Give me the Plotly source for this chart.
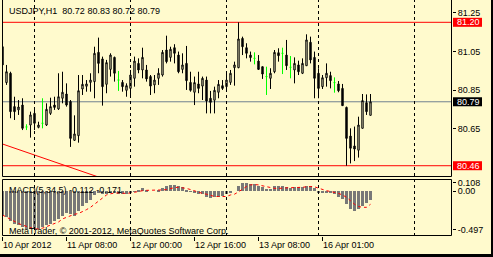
import plotly.graph_objects as go

# ---------------- data ----------------
symbol = "USDJPY,H1"
bars = list(range(93))
opens = [81.074, 80.889, 80.937, 80.765, 80.748, 80.773, 80.660, 80.670, 80.730, 80.658,
         80.679, 80.670, 80.730, 80.773, 80.753, 80.808, 80.830, 80.791, 80.591, 80.615,
         80.856, 80.870, 80.890, 80.894, 81.045, 81.011, 80.880, 80.957, 81.019, 80.902,
         80.890, 80.849, 80.859, 80.911, 80.988, 80.954, 80.954, 80.920, 80.877, 80.911,
         80.928, 81.057, 81.019, 81.069, 81.031, 80.957, 80.988, 80.890, 80.839, 80.882,
         80.871, 80.902, 80.808, 80.798, 80.839, 80.873, 80.868, 80.890, 80.966, 80.966,
         81.117, 81.069, 81.031, 81.014, 81.000, 80.971, 80.920, 80.911, 80.945, 81.043,
         81.040, 81.031, 80.968, 80.954, 80.980, 80.937, 80.976, 81.097, 81.019, 80.937,
         80.868, 80.914, 80.925, 80.889, 80.882, 80.859, 80.761, 80.613, 80.562, 80.540,
         80.653, 80.785, 80.72]
highs = [81.117, 80.980, 80.945, 80.816, 80.799, 80.808, 80.674, 80.739, 80.756, 80.687,
         80.808, 80.782, 80.811, 80.816, 80.937, 80.945, 80.885, 80.799, 80.720, 80.928,
         80.928, 80.902, 80.937, 81.074, 81.121, 81.023, 81.006, 81.040, 81.023, 80.949,
         80.902, 80.885, 80.954, 81.023, 81.014, 81.069, 80.980, 80.928, 80.928, 80.963,
         81.057, 81.131, 81.074, 81.087, 81.049, 81.040, 81.078, 80.945, 80.920, 80.945,
         80.920, 80.920, 80.846, 80.868, 80.902, 80.902, 80.937, 80.954, 80.997, 81.200,
         81.126, 81.092, 81.049, 81.045, 81.031, 80.971, 80.971, 80.963, 81.057, 81.066,
         81.069, 81.109, 81.026, 81.019, 81.002, 81.014, 81.138, 81.126, 81.049, 80.963,
         80.928, 80.988, 80.945, 80.916, 80.897, 80.882, 80.765, 80.653, 80.662, 80.713,
         80.830, 80.828, 80.83]
lows = [80.976, 80.877, 80.705, 80.696, 80.722, 80.644, 80.644, 80.605, 80.644, 80.653,
        80.653, 80.665, 80.722, 80.748, 80.748, 80.782, 80.765, 80.557, 80.588, 80.579,
        80.825, 80.842, 80.842, 80.808, 80.937, 80.770, 80.834, 80.920, 80.894, 80.846,
        80.842, 80.816, 80.816, 80.868, 80.937, 80.911, 80.894, 80.825, 80.834, 80.877,
        80.920, 80.988, 80.997, 80.988, 80.937, 80.937, 80.851, 80.842, 80.773, 80.834,
        80.799, 80.730, 80.730, 80.730, 80.808, 80.851, 80.846, 80.877, 80.873, 80.963,
        81.031, 81.014, 80.997, 80.983, 80.954, 80.908, 80.825, 80.856, 80.937, 80.997,
        80.933, 80.954, 80.911, 80.885, 80.928, 80.933, 80.976, 80.988, 80.808, 80.808,
        80.856, 80.868, 80.859, 80.837, 80.839, 80.770, 80.460, 80.472, 80.484, 80.502,
        80.653, 80.722, 80.72]
closes = [80.980, 80.945, 80.739, 80.739, 80.763, 80.653, 80.660, 80.722, 80.679, 80.670,
          80.679, 80.751, 80.765, 80.761, 80.816, 80.839, 80.773, 80.601, 80.624, 80.847,
          80.880, 80.882, 80.902, 81.040, 80.988, 80.868, 80.992, 81.031, 80.937, 80.902,
          80.868, 80.873, 80.928, 81.000, 80.954, 81.019, 80.908, 80.871, 80.902, 80.937,
          81.045, 80.997, 81.061, 81.040, 80.945, 80.980, 80.899, 80.849, 80.889, 80.859,
          80.911, 80.794, 80.787, 80.849, 80.880, 80.859, 80.902, 80.937, 80.980, 81.114,
          81.074, 81.040, 81.018, 81.014, 80.957, 80.933, 80.920, 80.937, 81.045, 81.028,
          81.040, 80.976, 80.968, 80.988, 80.945, 80.988, 81.109, 81.006, 80.911, 80.859,
          80.914, 80.937, 80.899, 80.889, 80.847, 80.770, 80.601, 80.550, 80.546, 80.670,
          80.796, 80.739, 80.79]

macd_hist = [-0.31, -0.33, -0.39, -0.43, -0.44, -0.46, -0.49, -0.497, -0.49, -0.49,
             -0.47, -0.44, -0.42, -0.39, -0.36, -0.32, -0.29, -0.30, -0.32, -0.26,
             -0.19, -0.15, -0.11, -0.05, -0.02, -0.04, -0.04, -0.025, -0.025, -0.04,
             -0.04, -0.04, -0.025, -0.01, 0.01, 0.04, 0.01, 0.0, 0.0, 0.01,
             0.04, 0.06, 0.08, 0.08, 0.06, 0.05, 0.01, -0.01, -0.02, -0.04,
             -0.04, -0.07, -0.09, -0.08, -0.07, -0.06, -0.04, -0.02, 0.0, 0.06,
             0.105, 0.108, 0.09, 0.09, 0.07, 0.055, 0.03, 0.03, 0.06, 0.06,
             0.06, 0.05, 0.045, 0.05, 0.055, 0.055, 0.07, 0.07, 0.045, -0.015,
             -0.025, -0.025, -0.025, -0.04, -0.07, -0.10, -0.17, -0.23, -0.26, -0.23,
             -0.19, -0.155, -0.112]
macd_signal = [-0.31, -0.34, -0.36, -0.39, -0.42, -0.44, -0.46, -0.48, -0.49, -0.49,
               -0.48, -0.46, -0.44, -0.42, -0.40, -0.36, -0.34, -0.31, -0.30, -0.29,
               -0.27, -0.24, -0.21, -0.17, -0.125, -0.085, -0.05, -0.035, -0.025, -0.025,
               -0.03, -0.03, -0.025, -0.015, 0.0, 0.005, 0.01, 0.01, 0.01, 0.01,
               0.015, 0.02, 0.035, 0.045, 0.05, 0.045, 0.035, 0.02, 0.0, -0.015,
               -0.03, -0.04, -0.06, -0.07, -0.07, -0.07, -0.07, -0.05, -0.04, -0.01,
               0.03, 0.06, 0.08, 0.085, 0.08, 0.07, 0.06, 0.045, 0.035, 0.035,
               0.04, 0.045, 0.045, 0.045, 0.045, 0.05, 0.055, 0.06, 0.055, 0.035,
               0.02, 0.005, -0.005, -0.015, -0.03, -0.05, -0.08, -0.125, -0.17, -0.2,
               -0.21, -0.21, -0.171]

level_high = 81.20
level_low = 80.46
last_price = 80.79
trend_x = [0, 40]
trend_y = [80.572, 80.288]
day_sep_bars = [8, 32, 56, 79, 103]
xtick_bars = [0, 16, 32, 48, 64, 80]
xtick_text = ["10 Apr 2012", "11 Apr 08:00", "12 Apr 00:00", "12 Apr 16:00",
              "13 Apr 08:00", "16 Apr 01:00"]
price_ticks = [81.25, 81.05, 80.85, 80.65]
macd_ticks = [0.108, 0.0, -0.497]
macd_ticktext = ["0.108", "0.00", "-0.497"]

# ---------------- layout constants ----------------
W, H = 493, 257
ML, MR, MT, MB = 2, 41, 0, 21
PW, PH = W - ML - MR, H - MT - MB
BG = "#FFFACD"
FONT = "Liberation Sans, Arial, sans-serif"
FS = 9

main_dom = [59 / PH, 1.0]
macd_dom = [0.0, 57 / PH]
main_rng = [80.4018, 81.3151]
macd_rng = [-0.5816, 0.1567]
x_rng = [-0.125, 112.375]


def px_x(p):
    return (p - ML) / PW


def px_y(p):
    return (PH - (p - MT)) / PH


def main_paper(v):
    return main_dom[0] + (v - main_rng[0]) / (main_rng[1] - main_rng[0]) * (main_dom[1] - main_dom[0])


doji = [i for i in bars if opens[i] == closes[i]]
norm = [i for i in bars if opens[i] != closes[i]]

fig = go.Figure()
fig.add_trace(go.Candlestick(
    x=[bars[i] for i in norm], open=[opens[i] for i in norm], high=[highs[i] for i in norm],
    low=[lows[i] for i in norm], close=[closes[i] for i in norm],
    increasing=dict(fillcolor=BG, line=dict(color="black", width=1)),
    decreasing=dict(fillcolor="black", line=dict(color="black", width=1)),
    xaxis="x", yaxis="y", hoverinfo="skip"))
fig.add_trace(go.Candlestick(
    x=[bars[i] for i in doji], open=[opens[i] for i in doji], high=[highs[i] for i in doji],
    low=[lows[i] for i in doji], close=[closes[i] for i in doji],
    increasing=dict(fillcolor="#00FF00", line=dict(color="#00FF00", width=1)),
    decreasing=dict(fillcolor="#00FF00", line=dict(color="#00FF00", width=1)),
    xaxis="x", yaxis="y", hoverinfo="skip"))
fig.add_trace(go.Scatter(x=trend_x, y=trend_y, mode="lines",
                         line=dict(color="red", width=1), xaxis="x", yaxis="y", hoverinfo="skip"))
fig.add_trace(go.Bar(x=bars, y=macd_hist, marker=dict(color="#787878", line=dict(width=0)),
                     width=0.55, xaxis="x", yaxis="y2", hoverinfo="skip"))
fig.add_trace(go.Scatter(x=bars, y=macd_signal, mode="lines",
                         line=dict(color="red", width=1, dash="dot"), xaxis="x", yaxis="y2",
                         hoverinfo="skip"))

shapes = []
# horizontal levels
for lv, col in [(level_high, "red"), (level_low, "red"), (last_price, "#708090")]:
    shapes.append(dict(type="line", xref="paper", yref="y", x0=0, x1=1, y0=lv, y1=lv,
                       line=dict(color=col, width=1), layer="below"))
# day separators
for b in day_sep_bars:
    shapes.append(dict(type="line", xref="x", yref="paper", x0=b, x1=b, y0=0, y1=1,
                       line=dict(color="black", width=1, dash="3px,3px"), layer="above"))
# frames
fx0, fx1 = px_x(2.5), px_x(451.5)
shapes += [
    dict(type="line", xref="paper", yref="paper", x0=fx0, x1=fx0, y0=px_y(176.5), y1=1,
         line=dict(color="black", width=1)),
    dict(type="line", xref="paper", yref="paper", x0=fx1, x1=fx1, y0=px_y(176.5), y1=1,
         line=dict(color="black", width=1)),
    dict(type="line", xref="paper", yref="paper", x0=fx0, x1=fx1, y0=px_y(176.5), y1=px_y(176.5),
         line=dict(color="black", width=1)),
    dict(type="rect", xref="paper", yref="paper", x0=fx0, x1=fx1, y0=px_y(235.5), y1=px_y(179.5),
         line=dict(color="black", width=1)),
    # black window edges
    dict(type="rect", xref="paper", yref="paper", x0=px_x(0), x1=px_x(W), y0=px_y(254), y1=px_y(H),
         fillcolor="black", line=dict(width=0)),
    dict(type="rect", xref="paper", yref="paper", x0=px_x(491), x1=px_x(W), y0=px_y(H), y1=px_y(0),
         fillcolor="black", line=dict(width=0)),
]
annotations = []
# price label boxes
half = 4.5 / 193.8
for lv, col in [(level_high, "red"), (last_price, "black"), (level_low, "red")]:
    shapes.append(dict(type="rect", xref="paper", yref="paper", x0=px_x(453), x1=px_x(482),
                       y0=main_paper(lv - half), y1=main_paper(lv + half),
                       fillcolor=col, line=dict(width=0)))
    annotations.append(dict(xref="paper", yref="paper", x=px_x(455), y=main_paper(lv),
                            xanchor="left", yanchor="middle", showarrow=False,
                            text=f"{lv:.2f}", font=dict(family=FONT, size=FS, color="white")))

title = f"{symbol}\u00a0\u00a0{opens[-1]:.2f} {highs[-1]:.2f} {lows[-1]:.2f} {closes[-1]:.2f}"
annotations.append(dict(xref="paper", yref="paper", x=px_x(6.5), y=px_y(10.7), xanchor="left",
                        yanchor="middle", showarrow=False, text=title,
                        font=dict(family=FONT, size=FS, color="black")))
annotations.append(dict(xref="paper", yref="paper", x=px_x(6.5), y=px_y(189.5), xanchor="left",
                        yanchor="middle", showarrow=False,
                        text=f"MACD(5,34,5) {macd_hist[-1]:.3f} {macd_signal[-1]:.3f}",
                        font=dict(family=FONT, size=FS, color="black")))
annotations.append(dict(xref="paper", yref="paper", x=px_x(6.5), y=px_y(230.5), xanchor="left",
                        yanchor="middle", showarrow=False,
                        text="MetaTrader, © 2001-2012, MetaQuotes Software Corp.",
                        font=dict(family=FONT, size=FS, color="black")))

fig.update_layout(
    width=W, height=H, margin=dict(l=ML, r=MR, t=MT, b=MB, pad=0),
    paper_bgcolor=BG, plot_bgcolor=BG, showlegend=False, hovermode=False,
    boxgap=0.5, boxmode="overlay", bargap=0,
    font=dict(family=FONT, size=FS, color="black"),
    xaxis=dict(domain=[0, 1], anchor="y2", range=x_rng, showgrid=False, zeroline=False,
               rangeslider=dict(visible=False), tickmode="array", tickvals=xtick_bars,
               ticktext=xtick_text, ticks="outside", ticklen=4, tickcolor="black",
               ticklabelposition="outside right", showline=False, automargin=False,
               tickfont=dict(family=FONT, size=FS, color="black")),
    yaxis=dict(domain=main_dom, anchor="x", range=main_rng, side="right", showgrid=False,
               zeroline=False, tickmode="array", tickvals=price_ticks,
               ticktext=[f"{v:.2f}" for v in price_ticks], ticks="outside", ticklen=3,
               tickcolor="black", automargin=False, showline=False,
               tickfont=dict(family=FONT, size=FS, color="black")),
    yaxis2=dict(domain=macd_dom, anchor="x", range=macd_rng, side="right", showgrid=False,
                zeroline=False, tickmode="array", tickvals=macd_ticks, ticktext=macd_ticktext,
                ticks="outside", ticklen=3, tickcolor="black", automargin=False, showline=False,
                tickfont=dict(family=FONT, size=FS, color="black")),
    shapes=shapes, annotations=annotations,
)

fig.write_html("out.html", config={"displayModeBar": False})
